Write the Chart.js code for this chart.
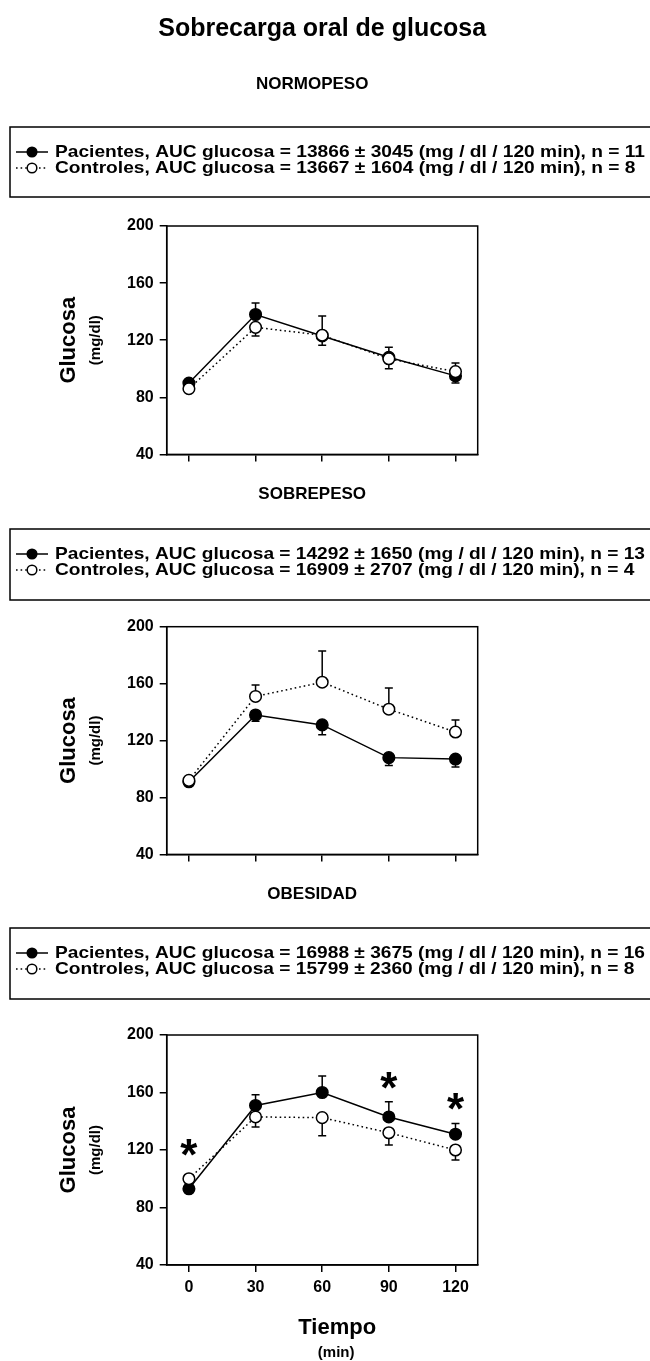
<!DOCTYPE html>
<html>
<head>
<meta charset="utf-8">
<script src="https://cdn.jsdelivr.net/npm/chart.js@4.4.1/dist/chart.umd.min.js"></script>
<style>
  html, body { margin: 0; padding: 0; background: #fff; }
  #page { position: relative; width: 650px; height: 1361px; overflow: hidden; }
  .panel { position: absolute; left: 0; width: 650px; }
</style>
</head>
<body>
<div id="page">
  <div class="panel" style="top:0;height:470px"><canvas id="c1"></canvas></div>
  <div class="panel" style="top:470px;height:400px"><canvas id="c2"></canvas></div>
  <div class="panel" style="top:870px;height:491px"><canvas id="c3"></canvas></div>
</div>
<script>
// Sampling times (min) and axis ticks
const tiempos = [0, 30, 60, 90, 120];
const yTicks = [40, 80, 120, 160, 200];

// NORMOPESO: mean glucose (mg/dl) and SEM (dir: +1 bar drawn upward, -1 downward)
const normoPacientes = [90, 138, 123, 108, 95];
const normoPacientesSem = [2, 8, 14, 7, 5];
const normoPacientesDir = [1, 1, 1, 1, -1];
const normoControles = [86, 129, 123.5, 107, 98];
const normoControlesSem = [2, 6, 7, 7, 6];
const normoControlesDir = [-1, -1, -1, -1, 1];

// SOBREPESO
const sobrePacientes = [91, 138, 131, 108, 107];
const sobrePacientesSem = [2, 4.5, 7, 5.5, 5.5];
const sobrePacientesDir = [-1, -1, -1, -1, -1];
const sobreControles = [92, 151, 161, 142, 126];
const sobreControlesSem = [2, 8, 22, 15, 8.5];
const sobreControlesDir = [1, 1, 1, 1, 1];

// OBESIDAD
const obesPacientes = [93, 151, 160, 143, 131];
const obesPacientesSem = [2, 7.5, 11.5, 10.5, 7.5];
const obesPacientesDir = [-1, 1, 1, 1, 1];
const obesControles = [100, 143, 142.5, 132, 120];
const obesControlesSem = [2, 7, 12.5, 8.5, 7];
const obesControlesDir = [1, -1, -1, -1, -1];

// Significant differences (time, label level)
const obesSignifTiempos = [0, 90, 120];
const obesSignifNivel = [122, 168.5, 153.5];

// Legend texts
const normoLeyenda = [
  'Pacientes, AUC glucosa = 13866 \u00B1 3045 (mg / dl / 120 min), n = 11',
  'Controles, AUC glucosa = 13667 \u00B1 1604 (mg / dl / 120 min), n = 8'
];
const sobreLeyenda = [
  'Pacientes, AUC glucosa = 14292 \u00B1 1650 (mg / dl / 120 min), n = 13',
  'Controles, AUC glucosa = 16909 \u00B1 2707 (mg / dl / 120 min), n = 4'
];
const obesLeyenda = [
  'Pacientes, AUC glucosa = 16988 \u00B1 3675 (mg / dl / 120 min), n = 16',
  'Controles, AUC glucosa = 15799 \u00B1 2360 (mg / dl / 120 min), n = 8'
];

const FONT = '"Liberation Sans", Arial, Helvetica, sans-serif';
const LW = 1.5;

function drawText(ctx, text, x, y, size, opts = {}) {
  ctx.save();
  ctx.font = `bold ${size}px ${FONT}`;
  ctx.fillStyle = '#000';
  ctx.textBaseline = 'middle';
  ctx.textAlign = opts.align || 'center';
  ctx.translate(x, y);
  if (opts.rotate) ctx.rotate(opts.rotate);
  if (opts.scaleX) ctx.scale(opts.scaleX, 1);
  ctx.fillText(text, 0, 0);
  ctx.restore();
}

// Error bars (mean +/- SEM in one direction), drawn under the markers
const errorBars = {
  id: 'errorBars',
  beforeDatasetsDraw(chart) {
    const ctx = chart.ctx;
    const xs = chart.scales.x, ys = chart.scales.y;
    ctx.save();
    ctx.strokeStyle = '#000';
    ctx.lineWidth = LW;
    chart.data.datasets.forEach(ds => {
      ds.means.forEach((v, i) => {
        const x = xs.getPixelForValue(tiempos[i]);
        const y0 = ys.getPixelForValue(v);
        const y1 = ys.getPixelForValue(v + ds.sem[i] * ds.dir[i]);
        ctx.beginPath();
        ctx.moveTo(x, y0); ctx.lineTo(x, y1);
        ctx.moveTo(x - 4, y1); ctx.lineTo(x + 4, y1);
        ctx.stroke();
      });
    });
    ctx.restore();
  }
};

// Closed frame around the plotting area
const frame = {
  id: 'frame',
  afterDraw(chart) {
    const { ctx, chartArea: a } = chart;
    ctx.save();
    ctx.strokeStyle = '#000';
    ctx.lineWidth = LW;
    ctx.strokeRect(a.left, a.top, a.right - a.left, a.bottom - a.top);
    ctx.restore();
  }
};

// Panel titles, legend box and axis titles
const decorations = {
  id: 'decorations',
  afterDraw(chart, args, o) {
    const ctx = chart.ctx;
    const a = chart.chartArea;
    const cx = (a.left + a.right) / 2;
    if (o.mainTitle) drawText(ctx, o.mainTitle, cx, o.mainTitleY, 25);
    drawText(ctx, o.panelTitle, cx - 10, o.panelTitleY, 17);

    // legend frame (right side runs past the page edge)
    const bt = o.boxTop, bb = o.boxBottom;
    ctx.save();
    ctx.strokeStyle = '#000';
    ctx.lineWidth = LW;
    ctx.strokeRect(10, bt, 700, bb - bt);
    ctx.restore();

    const ly = [bt + 25, bt + 41];
    const size = 16.5;
    ctx.save();
    ctx.font = `bold ${size}px ${FONT}`;
    const sx = 590 / ctx.measureText(o.legend[0]).width;
    ctx.restore();
    // Pacientes first, then Controles
    const order = [chart.data.datasets[1], chart.data.datasets[0]];
    order.forEach((ds, k) => {
      const y = ly[k];
      ctx.save();
      ctx.strokeStyle = '#000';
      ctx.lineWidth = LW;
      ctx.setLineDash(ds.borderDash || []);
      ctx.beginPath();
      ctx.moveTo(16, y); ctx.lineTo(48, y);
      ctx.stroke();
      ctx.setLineDash([]);
      ctx.beginPath();
      ctx.arc(32, y, 4.8, 0, Math.PI * 2);
      ctx.fillStyle = ds.pointBackgroundColor;
      ctx.fill();
      ctx.stroke();
      ctx.restore();
      drawText(ctx, o.legend[k], 55, y, size, { align: 'left', scaleX: sx });
    });

    // y-axis title
    const my = (a.top + a.bottom) / 2;
    drawText(ctx, 'Glucosa', 69, my, 22, { rotate: -Math.PI / 2 });
    drawText(ctx, '(mg/dl)', 96, my, 15, { rotate: -Math.PI / 2 });

    if (o.xTitle) {
      drawText(ctx, 'Tiempo', cx + 15, a.bottom + 63, 22);
      drawText(ctx, '(min)', cx + 14, a.bottom + 88, 15);
    }

    if (o.signif) {
      const xs = chart.scales.x, ys = chart.scales.y;
      ctx.save();
      ctx.font = `bold 44px ${FONT}`;
      const m = ctx.measureText('*');
      const off = (m.actualBoundingBoxAscent - m.actualBoundingBoxDescent) / 2;
      ctx.fillStyle = '#000';
      ctx.textAlign = 'center';
      ctx.textBaseline = 'alphabetic';
      o.signif.t.forEach((t, i) => {
        ctx.fillText('*', xs.getPixelForValue(t), ys.getPixelForValue(o.signif.y[i]) + off);
      });
      ctx.restore();
    }
  }
};

function makePanel(id, geom, pac, pacSem, pacDir, con, conSem, conDir, deco) {
  const canvas = document.getElementById(id);
  canvas.parentNode.style.height = geom.h + 'px';
  const yW = 40, xH = geom.xAxisH;
  return new Chart(canvas, {
    type: 'line',
    data: {
      datasets: [
        {
          label: 'Controles',
          data: con.map((v, i) => ({ x: tiempos[i], y: v })),
          means: con, sem: conSem, dir: conDir,
          borderColor: '#000', borderWidth: LW, borderDash: [1.6, 3],
          pointRadius: 5.8, pointBorderWidth: LW,
          pointBackgroundColor: '#fff', pointBorderColor: '#000',
          fill: false, tension: 0
        },
        {
          label: 'Pacientes',
          data: pac.map((v, i) => ({ x: tiempos[i], y: v })),
          means: pac, sem: pacSem, dir: pacDir,
          borderColor: '#000', borderWidth: LW,
          pointRadius: 5.8, pointBorderWidth: LW,
          pointBackgroundColor: '#000', pointBorderColor: '#000',
          fill: false, tension: 0
        }
      ]
    },
    options: {
      responsive: true,
      maintainAspectRatio: false,
      animation: false,
      events: [],
      layout: {
        padding: {
          left: 166.7 - yW,
          right: 650 - 477.7,
          top: geom.plotTop,
          bottom: geom.h - geom.plotBottom - xH
        }
      },
      plugins: {
        legend: { display: false },
        tooltip: { enabled: false },
        decorations: deco
      },
      scales: {
        x: {
          type: 'linear', min: -10, max: 130,
          afterBuildTicks: ax => { ax.ticks = tiempos.map(v => ({ value: v })); },
          afterFit: ax => { ax.height = xH; },
          grid: { drawOnChartArea: false, drawTicks: true, tickLength: 7, color: '#000', lineWidth: LW },
          border: { display: true, color: '#000', width: LW },
          ticks: {
            display: geom.xLabels, padding: 6, color: '#000',
            font: { family: FONT, size: 16, weight: 'bold' },
            maxRotation: 0, autoSkip: false
          }
        },
        y: {
          min: 40, max: 200,
          afterBuildTicks: ax => { ax.ticks = yTicks.map(v => ({ value: v })); },
          afterFit: ax => { ax.width = yW; },
          grid: { drawOnChartArea: false, drawTicks: true, tickLength: 7, color: '#000', lineWidth: LW },
          border: { display: true, color: '#000', width: LW },
          ticks: {
            padding: 6, color: '#000',
            font: { family: FONT, size: 16, weight: 'bold' }
          }
        }
      }
    },
    plugins: [errorBars, frame, decorations]
  });
}

// Panel geometries are relative to each canvas
makePanel('c1', { h: 470, plotTop: 226, plotBottom: 456, xAxisH: 14, xLabels: false },
  normoPacientes, normoPacientesSem, normoPacientesDir,
  normoControles, normoControlesSem, normoControlesDir,
  { mainTitle: 'Sobrecarga oral de glucosa', mainTitleY: 29, panelTitle: 'NORMOPESO', panelTitleY: 84,
    boxTop: 127, boxBottom: 197, legend: normoLeyenda });

makePanel('c2', { h: 400, plotTop: 626.7 - 470, plotBottom: 856 - 470, xAxisH: 14, xLabels: false },
  sobrePacientes, sobrePacientesSem, sobrePacientesDir,
  sobreControles, sobreControlesSem, sobreControlesDir,
  { panelTitle: 'SOBREPESO', panelTitleY: 494 - 470,
    boxTop: 529 - 470, boxBottom: 600 - 470, legend: sobreLeyenda });

makePanel('c3', { h: 491, plotTop: 1035 - 870, plotBottom: 1265 - 870, xAxisH: 40, xLabels: true },
  obesPacientes, obesPacientesSem, obesPacientesDir,
  obesControles, obesControlesSem, obesControlesDir,
  { panelTitle: 'OBESIDAD', panelTitleY: 894 - 870,
    boxTop: 928 - 870, boxBottom: 999 - 870, legend: obesLeyenda,
    xTitle: true, signif: { t: obesSignifTiempos, y: obesSignifNivel } });
</script>
</body>
</html>
